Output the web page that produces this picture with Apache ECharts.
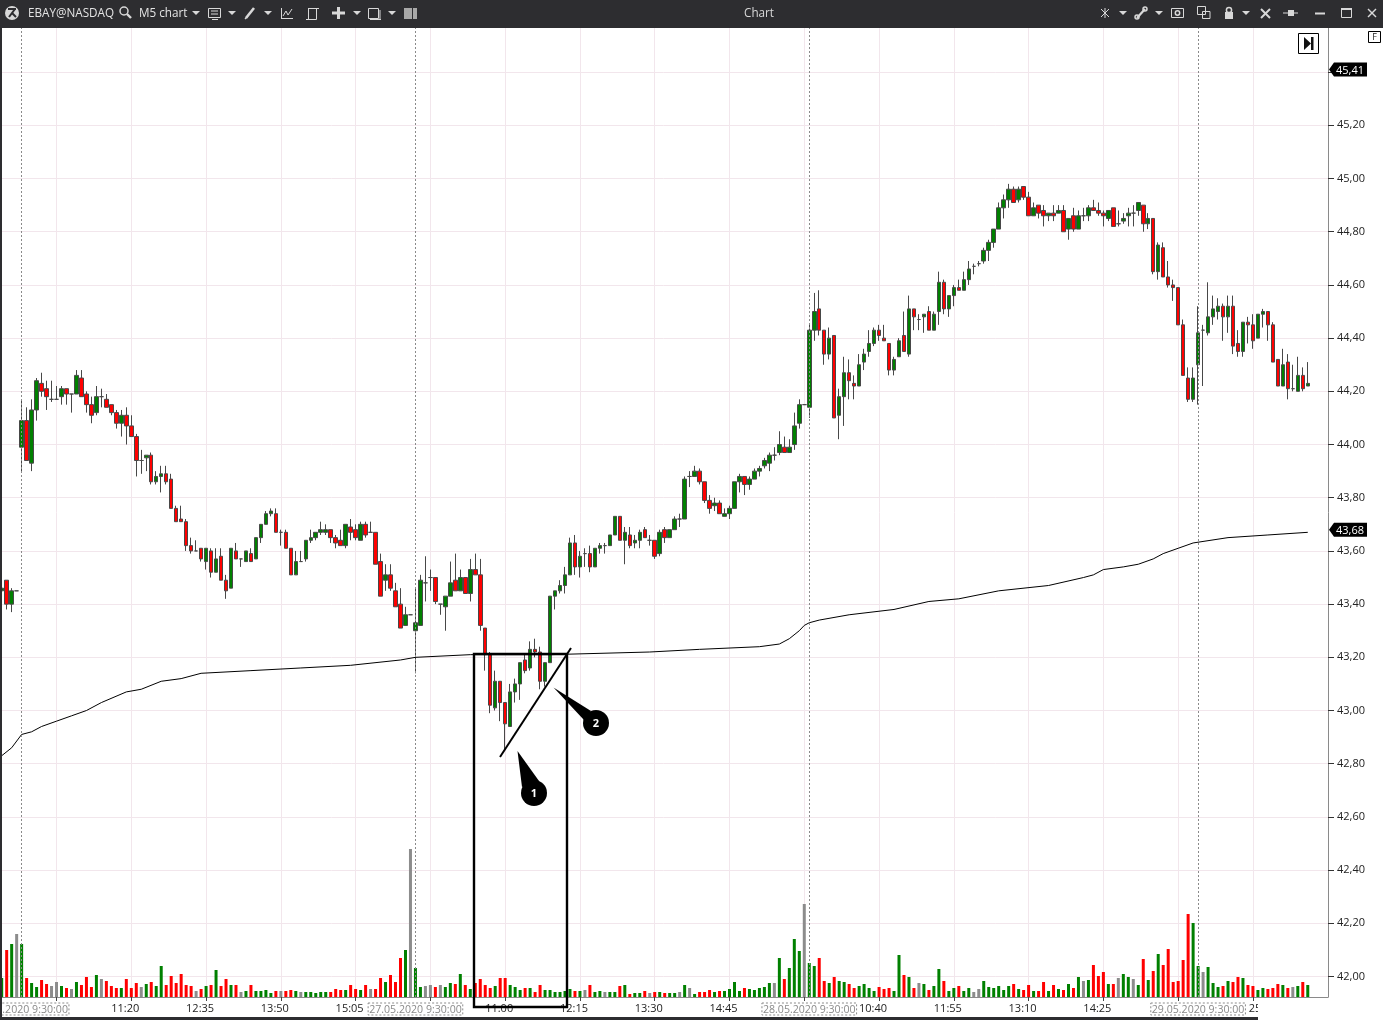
<!DOCTYPE html>
<html>
<head>
<meta charset="utf-8">
<title>EBAY M5 chart</title>
<style>
  html, body { margin: 0; padding: 0; background: #fff; }
  #chart { width: 1383px; height: 1020px; }
</style>
<script src="https://cdn.jsdelivr.net/npm/echarts@6/dist/echarts.min.js"></script>
</head>
<body>
<div id="chart"></div>
<script>
const FONT = '"Open Sans", "Noto Sans", sans-serif'

const barCount = 267

// open, close, low, high
const candles = [
  [43.45,43.46,43.44,43.47],[43.49,43.40,43.38,43.49],[43.40,43.45,43.37,43.46],[43.45,43.45,43.45,43.45],
  [43.99,44.09,43.90,44.17],[44.09,43.94,43.94,44.14],[43.93,44.13,43.90,44.17],[44.13,44.24,44.09,44.25],
  [44.23,44.20,44.18,44.27],[44.21,44.18,44.13,44.24],[44.17,44.17,44.16,44.24],[44.17,44.17,44.17,44.22],
  [44.18,44.21,44.15,44.22],[44.21,44.19,44.15,44.21],[44.19,44.19,44.12,44.19],[44.19,44.26,44.19,44.28],
  [44.25,44.18,44.18,44.28],[44.19,44.15,44.12,44.20],[44.15,44.11,44.08,44.18],[44.12,44.18,44.11,44.22],
  [44.18,44.18,44.14,44.21],[44.17,44.14,44.14,44.19],[44.15,44.12,44.11,44.15],[44.12,44.08,44.06,44.13],
  [44.08,44.11,44.03,44.13],[44.11,44.07,44.00,44.14],[44.07,44.03,44.03,44.11],[44.03,43.94,43.88,44.04],
  [43.94,43.94,43.89,43.98],[43.95,43.96,43.90,43.96],[43.96,43.86,43.85,43.97],[43.86,43.88,43.85,43.90],
  [43.88,43.89,43.82,43.92],[43.89,43.86,43.85,43.92],[43.87,43.76,43.76,43.89],[43.76,43.71,43.71,43.77],
  [43.72,43.71,43.71,43.77],[43.71,43.62,43.60,43.72],[43.62,43.60,43.59,43.65],[43.60,43.60,43.60,43.64],
  [43.61,43.57,43.56,43.61],[43.56,43.61,43.53,43.61],[43.60,43.52,43.50,43.61],[43.52,43.57,43.52,43.61],
  [43.58,43.49,43.49,43.61],[43.49,43.45,43.42,43.51],[43.46,43.61,43.46,43.61],[43.60,43.57,43.57,43.63],
  [43.57,43.57,43.54,43.57],[43.56,43.60,43.56,43.60],[43.59,43.56,43.56,43.61],[43.57,43.65,43.57,43.65],
  [43.65,43.70,43.63,43.70],[43.70,43.74,43.70,43.75],[43.74,43.75,43.73,43.76],[43.74,43.67,43.67,43.76],
  [43.67,43.67,43.62,43.68],[43.67,43.61,43.61,43.68],[43.61,43.51,43.51,43.61],[43.51,43.56,43.51,43.60],
  [43.56,43.56,43.56,43.60],[43.57,43.64,43.56,43.64],[43.64,43.65,43.63,43.68],[43.65,43.67,43.64,43.67],
  [43.67,43.68,43.66,43.71],[43.67,43.68,43.66,43.70],[43.68,43.65,43.63,43.68],[43.65,43.63,43.61,43.66],
  [43.64,43.62,43.62,43.68],[43.62,43.70,43.61,43.70],[43.69,43.67,43.64,43.72],[43.68,43.65,43.64,43.70],
  [43.64,43.70,43.64,43.71],[43.70,43.66,43.65,43.71],[43.67,43.67,43.67,43.71],[43.67,43.55,43.55,43.67],
  [43.56,43.43,43.43,43.59],[43.49,43.51,43.45,43.55],[43.51,43.46,43.45,43.55],[43.45,43.39,43.39,43.48],
  [43.40,43.31,43.31,43.46],[43.32,43.36,43.32,43.39],[43.36,43.36,43.36,43.36],[43.30,43.33,43.14,43.46],
  [43.32,43.49,43.32,43.51],[43.48,43.48,43.41,43.58],[43.50,43.50,43.45,43.53],[43.50,43.41,43.40,43.50],
  [43.40,43.40,43.36,43.40],[43.39,43.43,43.30,43.43],[43.43,43.48,43.43,43.56],[43.49,43.45,43.45,43.59],
  [43.45,43.50,43.45,43.53],[43.50,43.44,43.44,43.50],[43.44,43.53,43.41,43.57],[43.53,43.51,43.51,43.59],
  [43.51,43.32,43.30,43.57],[43.31,43.21,43.15,43.31],[43.21,43.02,42.99,43.22],[43.01,43.11,43.00,43.15],
  [43.11,43.03,42.96,43.11],[43.03,42.95,42.85,43.03],[42.94,43.07,42.94,43.10],[43.07,43.10,43.03,43.12],
  [43.10,43.18,43.04,43.18],[43.19,43.15,43.14,43.21],[43.16,43.23,43.15,43.26],[43.23,43.22,43.20,43.27],
  [43.22,43.11,43.08,43.24],[43.11,43.18,43.09,43.18],[43.18,43.43,43.18,43.43],[43.43,43.45,43.38,43.45],
  [43.45,43.47,43.44,43.49],[43.47,43.51,43.44,43.54],[43.51,43.63,43.51,43.65],[43.63,43.54,43.51,43.66],
  [43.54,43.58,43.50,43.60],[43.59,43.59,43.54,43.61],[43.59,43.54,43.52,43.62],[43.54,43.61,43.54,43.61],
  [43.61,43.62,43.59,43.63],[43.62,43.62,43.59,43.63],[43.62,43.66,43.62,43.66],[43.66,43.73,43.66,43.73],
  [43.73,43.64,43.64,43.73],[43.64,43.67,43.55,43.69],[43.66,43.62,43.61,43.69],[43.63,43.64,43.61,43.66],
  [43.64,43.67,43.61,43.68],[43.68,43.65,43.65,43.69],[43.64,43.64,43.62,43.66],[43.64,43.58,43.57,43.64],
  [43.59,43.67,43.58,43.68],[43.68,43.65,43.63,43.69],[43.65,43.68,43.65,43.68],[43.68,43.72,43.68,43.73],
  [43.72,43.72,43.69,43.74],[43.72,43.87,43.72,43.88],[43.88,43.88,43.84,43.90],[43.88,43.90,43.88,43.92],
  [43.90,43.86,43.85,43.91],[43.86,43.79,43.78,43.86],[43.79,43.76,43.74,43.81],[43.77,43.78,43.75,43.80],
  [43.78,43.74,43.74,43.79],[43.73,43.74,43.73,43.76],[43.74,43.76,43.72,43.77],[43.76,43.86,43.76,43.86],
  [43.86,43.88,43.82,43.89],[43.88,43.85,43.81,43.88],[43.85,43.87,43.83,43.88],[43.87,43.90,43.87,43.91],
  [43.90,43.91,43.88,43.92],[43.92,43.94,43.91,43.95],[43.93,43.96,43.90,43.97],[43.96,43.96,43.94,43.99],
  [43.97,44.00,43.96,44.05],[43.99,43.97,43.97,44.03],[43.97,43.99,43.97,44.02],[44.00,44.07,43.98,44.12],
  [44.08,44.15,44.06,44.17],[44.15,44.15,44.15,44.15],[44.14,44.43,44.10,44.45],[44.43,44.50,44.39,44.57],
  [44.51,44.43,44.41,44.58],[44.43,44.34,44.30,44.43],[44.34,44.40,44.32,44.44],[44.41,44.10,44.10,44.41],
  [44.11,44.18,44.02,44.21],[44.18,44.27,44.07,44.33],[44.27,44.24,44.17,44.32],[44.23,44.22,44.17,44.26],
  [44.22,44.30,44.22,44.34],[44.31,44.34,44.28,44.36],[44.35,44.38,44.33,44.43],[44.38,44.43,44.37,44.44],
  [44.43,44.41,44.39,44.45],[44.40,44.39,44.39,44.45],[44.38,44.28,44.26,44.38],[44.28,44.32,44.26,44.33],
  [44.33,44.39,44.33,44.40],[44.41,44.35,44.35,44.50],[44.34,44.51,44.33,44.56],[44.51,44.48,44.43,44.51],
  [44.47,44.47,44.43,44.49],[44.48,44.49,44.42,44.49],[44.50,44.43,44.43,44.52],[44.43,44.49,44.43,44.50],
  [44.50,44.61,44.45,44.65],[44.61,44.51,44.49,44.62],[44.51,44.56,44.48,44.56],[44.56,44.59,44.52,44.60],
  [44.59,44.58,44.58,44.62],[44.58,44.62,44.58,44.65],[44.62,44.66,44.60,44.69],[44.67,44.67,44.64,44.68],
  [44.68,44.68,44.67,44.69],[44.69,44.73,44.68,44.74],[44.73,44.76,44.69,44.77],[44.76,44.81,44.74,44.81],
  [44.81,44.89,44.81,44.91],[44.89,44.92,44.85,44.94],[44.92,44.96,44.89,44.98],[44.96,44.91,44.91,44.97],
  [44.92,44.96,44.91,44.97],[44.97,44.93,44.92,44.97],[44.93,44.86,44.86,44.95],[44.86,44.89,44.86,44.91],
  [44.90,44.87,44.85,44.90],[44.88,44.86,44.82,44.90],[44.86,44.87,44.84,44.87],[44.87,44.86,44.84,44.90],
  [44.87,44.88,44.87,44.90],[44.88,44.80,44.80,44.90],[44.81,44.85,44.77,44.85],[44.86,44.81,44.80,44.89],
  [44.81,44.86,44.81,44.88],[44.86,44.86,44.84,44.89],[44.86,44.89,44.84,44.90],[44.89,44.88,44.88,44.92],
  [44.88,44.87,44.86,44.91],[44.87,44.86,44.82,44.88],[44.85,44.88,44.84,44.88],[44.89,44.82,44.82,44.89],
  [44.83,44.83,44.82,44.88],[44.84,44.85,44.83,44.87],[44.86,44.87,44.82,44.89],[44.87,44.87,44.82,44.90],
  [44.88,44.91,44.86,44.91],[44.90,44.83,44.80,44.90],[44.83,44.85,44.81,44.87],[44.85,44.65,44.64,44.85],
  [44.65,44.75,44.62,44.76],[44.74,44.63,44.63,44.76],[44.63,44.60,44.59,44.69],[44.60,44.59,44.54,44.62],
  [44.59,44.45,44.45,44.59],[44.45,44.26,44.26,44.47],[44.25,44.17,44.16,44.29],[44.17,44.25,44.16,44.29],
  [44.30,44.42,44.15,44.52],[44.43,44.43,44.22,44.45],[44.42,44.48,44.41,44.61],[44.48,44.51,44.45,44.56],
  [44.50,44.52,44.47,44.55],[44.52,44.48,44.39,44.53],[44.48,44.52,44.42,44.56],[44.52,44.37,44.34,44.56],
  [44.38,44.35,44.33,44.43],[44.35,44.46,44.33,44.46],[44.46,44.45,44.38,44.48],[44.45,44.39,44.36,44.49],
  [44.40,44.49,44.40,44.49],[44.49,44.50,44.44,44.51],[44.50,44.45,44.39,44.50],[44.45,44.31,44.31,44.46],
  [44.32,44.22,44.22,44.32],[44.22,44.30,44.22,44.36],[44.31,44.21,44.17,44.34],[44.21,44.21,44.20,44.30],
  [44.20,44.26,44.20,44.33],[44.26,44.21,44.20,44.29],[44.22,44.23,44.22,44.31]
]

const volumes = [
  19,47,53,63,53,19,14,10,17,13, 11,15,11,9,8,15,12,20,10,22,
  18,16,11,9,9,18,9,14,10,13, 15,11,31,12,21,14,23,12,11,6,
  8,11,12,27,11,18,12,12,5,6, 12,6,6,7,4,6,6,6,7,6,
  5,5,5,4,5,5,5,8,7,7, 12,8,7,12,8,8,19,15,22,15,
  39,47,148,29,10,11,12,10,12,10, 14,13,23,12,8,14,18,12,9,11,
  19,19,12,10,7,9,9,5,12,7, 7,5,5,6,8,6,6,7,12,5,
  6,5,5,5,11,12,3,4,4,6, 4,5,5,4,4,4,5,12,9,3,
  5,5,7,5,6,6,8,15,6,9, 8,7,9,10,14,14,39,18,29,58,
  46,93,34,31,39,16,14,20,16,15, 13,9,11,13,9,6,10,8,9,6,
  42,22,20,9,14,13,7,11,28,16, 6,9,11,6,9,5,8,16,10,9,
  11,7,11,13,8,7,12,6,6,15, 6,12,8,7,13,9,20,16,17,32,
  21,25,13,13,19,23,20,18,12,38, 17,26,43,32,48,15,16,37,83,74,
  31,25,30,14,10,11,16,15,20,19, 12,11,7,9,8,9,13,12,9,10,
  11,15,12
]

// g green, r red, n neutral grey, ten bars per chunk
const volumeKinds = [
  'grgngrggrr','nngrngrrrg','nrrrgrrrng','rggrrrrrrn','rgrgrrgrng','rggggrnrrg','ngggggrrrg','rrgrnrrgrr',
  'rgnggnnrng','grgrgrrrrg','rrgggrgrrg','gggggrgnrg','gnggrgrggr','nrgrggngng','rrrgrggggr','gggggngrgg',
  'gnggrrgrgg','rrggggrrrg','grgrngrggr','ggrggnnggg','gggrgrrgrr','grgrgrgngr','rrgrnggngr','grgrrrrrrg',
  'gngggrgrrg','rrggrrrgrn','grg'
].join('')

const vwapBars = [0,2,4,6,8,11,14,17,20,25,28,32,36,40,50,60,70,80,83,94,110,130,140,152,156,158,160,161,162,164,170,179,186,192,200,210,217,219,221,225,228,231,233,236,239,246,254,262]
const vwapPrices = [42.83,42.86,42.91,42.92,42.94,42.96,42.98,43.00,43.03,43.07,43.08,43.11,43.12,43.14,43.15,43.16,43.17,43.19,43.20,43.21,43.21,43.22,43.23,43.24,43.25,43.27,43.30,43.32,43.33,43.34,43.36,43.38,43.41,43.42,43.45,43.47,43.50,43.51,43.53,43.54,43.55,43.57,43.59,43.61,43.63,43.65,43.66,43.67]

const priceTicks = [42.0,42.2,42.4,42.6,42.8,43.0,43.2,43.4,43.6,43.8,44.0,44.2,44.4,44.6,44.8,45.0,45.2,45.4]
const priceLabels = [42.0,42.2,42.4,42.6,42.8,43.0,43.2,43.4,43.6,43.8,44.0,44.2,44.4,44.6,44.8,45.0,45.2]
const priceTags = [45.41, 43.68]

const gridBars = [11,26,41,56,71,86,101,116,131,146,161,176,191,206,221,236,251]
const timeBars = [26,41,56,71,101,116,131,146,176,191,206,221,251]
const timeLabels = ['11:20','12:35','13:50','15:05','11:00','12:15','13:30','14:45','10:40','11:55','13:10','14:25','25']
const sessionBars = [4,83,162,240]
const sessionLabels = ['26.05.2020 9:30:00','27.05.2020 9:30:00','28.05.2020 9:30:00','29.05.2020 9:30:00']
</script>
<script>
const kindColor = {g: '#008000', r: '#ff0000', n: '#8c8c8c'}

const categories = []
for (let i = 0; i < barCount; i++) categories.push(String(i))

const vwapLine = categories.map(() => null)
vwapBars.forEach((bar, i) => { vwapLine[bar] = vwapPrices[i] })

const labelAt = {}
timeBars.forEach((bar, i) => { labelAt[bar] = timeLabels[i] === '25' ? '{cut|25}' : '{t|' + timeLabels[i] + '}' })
sessionBars.forEach((bar, i) => { labelAt[bar] = '{d|' + sessionLabels[i] + '}' })

const onGrid = index => gridBars.indexOf(index) !== -1

// toolbar and hand drawn annotations, not chart data
const BAR = '#2d2d30'
const ICON = '#d8d8d8'
const Z = 200
const tri = x => ({type: 'polygon', z: Z, shape: {points: [[x - 4, 11], [x + 4, 11], [x, 15]]}, style: {fill: ICON}})
const box = (x, y, w, h, fill, stroke) => ({type: 'rect', z: Z, shape: {x, y, width: w, height: h}, style: {fill: fill || 'none', stroke: stroke || 'none', lineWidth: 1}})
const seg = (x1, y1, x2, y2, w, color) => ({type: 'line', z: Z, shape: {x1, y1, x2, y2}, style: {stroke: color || ICON, lineWidth: w || 1}})
const txt = (x, y, text, fill, size, align, weight) => ({type: 'text', z: Z + 1, x, y, style: {text, fill, font: (weight || 'normal') + ' ' + size + 'px ' + FONT, textAlign: align || 'left', textVerticalAlign: 'middle'}})
const disc = (x, y, r, fill, stroke) => ({type: 'circle', z: Z, shape: {cx: x, cy: y, r}, style: {fill: fill || 'none', stroke: stroke || 'none', lineWidth: 1.5}})

const toolbar = [
  box(0, 0, 1383, 28, BAR),
  box(0, 28, 2, 989, BAR),
  box(0, 1017, 1258, 3, BAR),
  box(1258, 998, 70, 19, '#fff'),
  disc(12, 13, 7, ICON),
  seg(8, 9, 16, 9, 2, BAR), seg(15, 9, 9, 17, 2, BAR), seg(12, 13, 16, 17, 2, BAR),
  txt(28, 14, 'EBAY@NASDAQ', '#e4e4e4', 11.7),
  disc(124, 11, 4, 'none', ICON), seg(127, 14, 131, 18, 2.4),
  txt(139, 14, 'M5 chart', '#e4e4e4', 11.7),
  tri(196),
  box(208.5, 8.5, 12, 9, 'none', ICON), seg(211, 11, 218, 11), seg(211, 14, 218, 14), seg(212, 19.5, 218, 19.5),
  tri(232),
  seg(246, 18, 254, 8, 2.6), seg(245, 19, 247, 17, 1.4),
  tri(268),
  seg(281.5, 8, 281.5, 18.5), seg(281, 18.5, 293, 18.5), {type: 'polyline', z: Z, shape: {points: [[283, 16], [286, 11], [288, 15], [292, 9]]}, style: {stroke: ICON, fill: 'none'}},
  box(308.5, 8.5, 8, 11, 'none', ICON), seg(308, 8.5, 319, 8.5), seg(306, 19.5, 315, 19.5),
  seg(338.5, 7, 338.5, 19, 3), seg(332, 13, 345, 13, 3),
  tri(357),
  box(368.5, 8.5, 10, 10, 'none', ICON), seg(370, 19.5, 381, 19.5), seg(380, 10, 380, 19),
  tri(392),
  box(404, 8, 13, 11, '#a8a8a8'), seg(412.5, 8, 412.5, 19, 1, BAR),
  txt(759, 14, 'Chart', '#d8d8d8', 11.7, 'center'),
  seg(1101, 9, 1109, 17), seg(1109, 9, 1101, 17), seg(1105, 8, 1105, 18),
  tri(1123),
  seg(1137, 18, 1145, 9, 2.2), disc(1137, 17, 2, 'none', ICON), disc(1145, 9, 2, 'none', ICON),
  tri(1159),
  box(1171.5, 8.5, 12, 9, 'none', ICON), disc(1177.5, 13, 2.2, 'none', ICON),
  box(1197.5, 6.5, 8, 8, 'none', ICON), box(1202.5, 11.5, 7.5, 7, 'none', ICON),
  box(1225, 12, 8, 7, ICON), disc(1229, 10, 2.6, 'none', ICON),
  tri(1246),
  seg(1261, 9, 1270, 18, 2), seg(1270, 9, 1261, 18, 2),
  seg(1283, 13, 1298, 13, 1), box(1288, 10, 6, 6, ICON),
  seg(1315, 13.5, 1325, 13.5, 2),
  box(1341.5, 8.5, 10, 9, 'none', ICON), seg(1341, 9, 1352, 9, 2),
  seg(1368, 9, 1376, 17, 1.4), seg(1376, 9, 1368, 17, 1.4),
  box(1298.5, 33.5, 20, 20, '#fff', '#000'),
  {type: 'polygon', z: Z, shape: {points: [[1304, 37], [1304, 50], [1311, 43.5]]}, style: {fill: '#111'}},
  box(1311, 37, 2.5, 13, '#111'),
  box(1368.5, 31.5, 12, 11, '#fff', '#000'),
  txt(1374.5, 37, 'F', '#222', 9, 'center')
]

const annotations = [
  {type: 'rect', z: Z, shape: {x: 474, y: 654, width: 93, height: 353}, style: {fill: 'none', stroke: '#000', lineWidth: 2.4}},
  {type: 'line', z: Z, shape: {x1: 500, y1: 757, x2: 571, y2: 648}, style: {stroke: '#000', lineWidth: 2}},
  {type: 'polygon', z: Z, shape: {points: [[517.5, 751], [522, 787], [539, 781]]}, style: {fill: '#000'}},
  disc(534, 793, 13, '#000'),
  txt(534, 794, '1', '#fff', 11, 'center', 'bold'),
  {type: 'polygon', z: Z, shape: {points: [[553.5, 687.5], [584, 720], [591, 711]]}, style: {fill: '#000'}},
  disc(596, 723, 13, '#000'),
  txt(596, 724, '2', '#fff', 11, 'center', 'bold')
]

function renderPriceTag(params, api) {
  const value = api.value(1)
  const p = api.coord([1, value])
  const x = p[0] + 1
  const y = p[1]
  return {
    type: 'group',
    children: [
      {type: 'polygon', shape: {points: [[x, y], [x + 5, y - 7], [x + 38, y - 7], [x + 38, y + 7], [x + 5, y + 7]]}, style: {fill: '#000'}},
      {type: 'text', x: x + 21, y: y + 1, style: {text: value.toFixed(2).replace('.', ','), fill: '#fff', font: '11px ' + FONT, textAlign: 'center', textVerticalAlign: 'middle'}}
    ]
  }
}

const chart = echarts.init(document.getElementById('chart'))

const option = {
  animation: false,
  backgroundColor: '#fff',
  textStyle: {fontFamily: FONT},
  grid: [
    {left: -0.8, width: 1331, top: 28, height: 969, outerBoundsMode: 'none'},
    {left: -0.8, right: 55, top: 28, height: 969, outerBoundsMode: 'none'}
  ],
  xAxis: [
    {
      type: 'category',
      gridIndex: 0,
      data: categories,
      axisLine: {show: false},
      axisTick: {show: true, alignWithLabel: true, length: 4, interval: index => onGrid(index), lineStyle: {color: '#444'}},
      splitLine: {show: true, alignWithLabel: true, interval: index => onGrid(index), lineStyle: {color: '#f2e6ec', width: 1}},
      axisLabel: {
        show: true,
        margin: 6,
        interval: index => labelAt[index] !== undefined,
        formatter: (value, index) => labelAt[index] || '',
        rich: {
          t: {fontSize: 11, color: '#222', fontFamily: FONT, padding: [0, 12, 0, 0]},
          cut: {fontSize: 11, color: '#222', fontFamily: FONT, padding: [0, 0, 0, 4]},
          d: {fontSize: 10.6, color: '#8a8a8a', fontFamily: FONT, borderColor: '#8a8a8a', borderWidth: 1, borderType: [2, 2], padding: [1, 1, 0, 1]}
        }
      }
    },
    {type: 'value', gridIndex: 1, min: 0, max: 1, axisLine: {show: true, onZero: false, lineStyle: {color: '#8a8a8a'}}, axisTick: {show: false}, axisLabel: {show: false}, splitLine: {show: false}}
  ],
  yAxis: [
    {type: 'value', gridIndex: 0, min: 41.923, max: 45.566, show: false, splitLine: {show: false}},
    {type: 'value', gridIndex: 0, min: 0, max: 969, show: false, splitLine: {show: false}},
    {
      type: 'value',
      gridIndex: 1,
      position: 'right',
      min: 41.923,
      max: 45.566,
      axisLine: {show: true, onZero: false, lineStyle: {color: '#8a8a8a'}},
      axisTick: {show: true, length: 6, customValues: priceTicks, lineStyle: {color: '#333'}},
      splitLine: {show: true, lineStyle: {color: '#f2e6ec', width: 1}},
      axisLabel: {
        margin: 9,
        fontSize: 11,
        color: '#222',
        fontFamily: FONT,
        padding: [2, 0, 0, 0],
        customValues: priceLabels,
        formatter: value => value.toFixed(2).replace('.', ',')
      }
    }
  ],
  graphic: {elements: toolbar.concat(annotations)},
  series: [
    {
      name: 'Volume',
      type: 'bar',
      xAxisIndex: 0,
      yAxisIndex: 1,
      barWidth: 3,
      silent: true,
      data: volumes.map((v, i) => ({value: v, itemStyle: {color: kindColor[volumeKinds[i]]}}))
    },
    {
      name: 'EBAY',
      type: 'candlestick',
      xAxisIndex: 0,
      yAxisIndex: 0,
      barWidth: 4,
      silent: true,
      itemStyle: {color: '#008000', color0: '#ff0000', borderColor: '#484848', borderColor0: '#484848', borderWidth: 1},
      data: candles,
      markLine: {
        silent: true,
        symbol: 'none',
        label: {show: false},
        lineStyle: {color: '#8a8a8a', type: [2, 2], width: 1},
        data: sessionBars.map(bar => ({xAxis: String(bar)}))
      }
    },
    {
      name: 'VWAP',
      type: 'line',
      xAxisIndex: 0,
      yAxisIndex: 0,
      data: vwapLine,
      connectNulls: true,
      showSymbol: false,
      silent: true,
      lineStyle: {color: '#000', width: 1}
    },
    {
      name: 'Last',
      type: 'custom',
      xAxisIndex: 1,
      yAxisIndex: 2,
      clip: false,
      silent: true,
      z: 10,
      data: priceTags.map(v => [1, v]),
      renderItem: renderPriceTag
    }
  ]
}

chart.setOption(option)
</script>
</body>
</html>
